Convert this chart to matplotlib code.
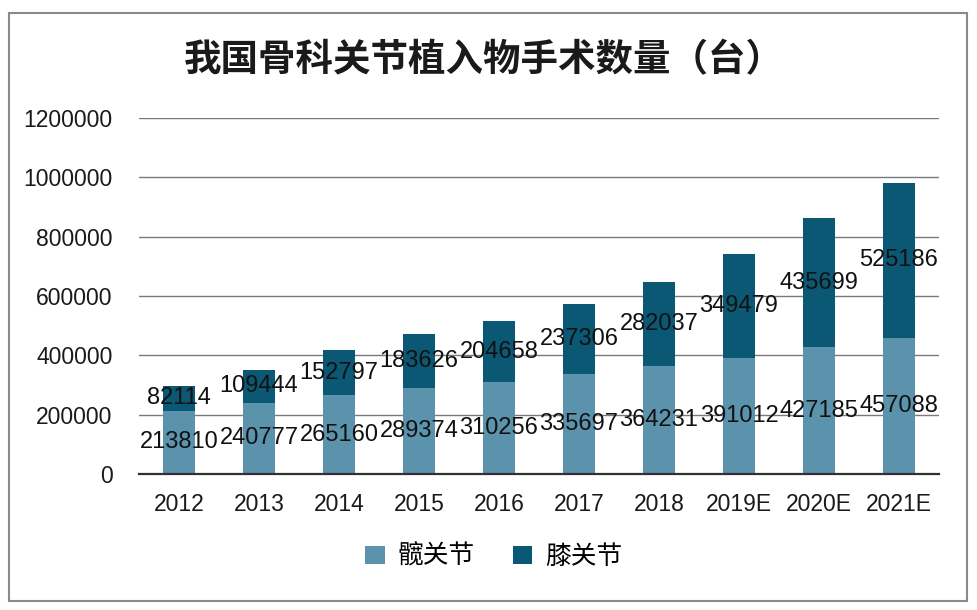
import matplotlib
matplotlib.use("Agg")
import matplotlib.pyplot as plt
from matplotlib.patches import Rectangle
import numpy as np

# data
years = ['2012', '2013', '2014', '2015', '2016', '2017', '2018', '2019E', '2020E', '2021E']
hip = [213810, 240777, 265160, 289374, 310256, 335697, 364231, 391012, 427185, 457088]
knee = [82114, 109444, 152797, 183626, 204658, 237306, 282037, 349479, 435699, 525186]
series_names = ['髋关节', '膝关节']
title = '我国骨科关节植入物手术数量（台）'

HIP_COLOR = '#5b93ac'
KNEE_COLOR = '#0b5874'
NUM_FONT = ['Liberation Sans', 'Noto Sans CJK SC']
CJK_FONT = ['Noto Sans CJK SC', 'DejaVu Sans']

plt.rcParams['font.family'] = NUM_FONT

fig = plt.figure(figsize=(9.78, 6.10), dpi=100)
ax = fig.add_axes([0.1421, 0.2230, 0.8180, 0.5836])

x = np.arange(len(years))
hip_bars = ax.bar(x, hip, width=0.39, color=HIP_COLOR, zorder=3, label=series_names[0])
knee_bars = ax.bar(x, knee, width=0.39, bottom=hip, color=KNEE_COLOR, zorder=3,
                   label=series_names[1])

# value labels centred in each segment
for i in range(len(years)):
    ax.text(x[i], hip[i] / 2, str(hip[i]), ha='center', va='center',
            fontsize=17, color='#111111', zorder=5)
    ax.text(x[i], hip[i] + knee[i] / 2, str(knee[i]), ha='center', va='center',
            fontsize=17, color='#111111', zorder=5)

ax.set_xlim(-0.5, len(years) - 0.5)
ax.set_ylim(0, 1200000)
ax.set_yticks(np.arange(0, 1200001, 200000))
ax.set_yticklabels([str(v) for v in range(0, 1200001, 200000)])
ax.set_xticks(x)
ax.set_xticklabels(years)
ax.tick_params(axis='both', length=0, labelsize=16.5, colors='#1a1a1a')
ax.tick_params(axis='y', pad=19)
ax.tick_params(axis='x', pad=14)
ax.grid(axis='y', color='#7a7a7a', linewidth=1.0, zorder=0)
for side in ['left', 'right', 'top']:
    ax.spines[side].set_visible(False)
ax.spines['bottom'].set_color('#303030')
ax.spines['bottom'].set_linewidth(1.6)
ax.spines['bottom'].set_zorder(4)

fig.text(0.495, 1 - 60 / 610, title, ha='center', va='center', fontsize=27,
         fontweight='bold', family=CJK_FONT, color='#1a1a1a')

leg = fig.legend(handles=[hip_bars, knee_bars], labels=series_names, loc='center',
                 bbox_to_anchor=(0.505, 1 - 557 / 610), ncol=2, frameon=False,
                 handlelength=0.75, handleheight=0.75, handletextpad=0.5,
                 columnspacing=1.5, prop={'family': CJK_FONT, 'size': 18.5})

# outer frame
fig.patches.append(Rectangle((9 / 978, 9 / 610), 958 / 978, 588 / 610,
                             transform=fig.transFigure, fill=False,
                             edgecolor='#8a8a8a', linewidth=1.5))

fig.savefig('out.png', dpi=100)
